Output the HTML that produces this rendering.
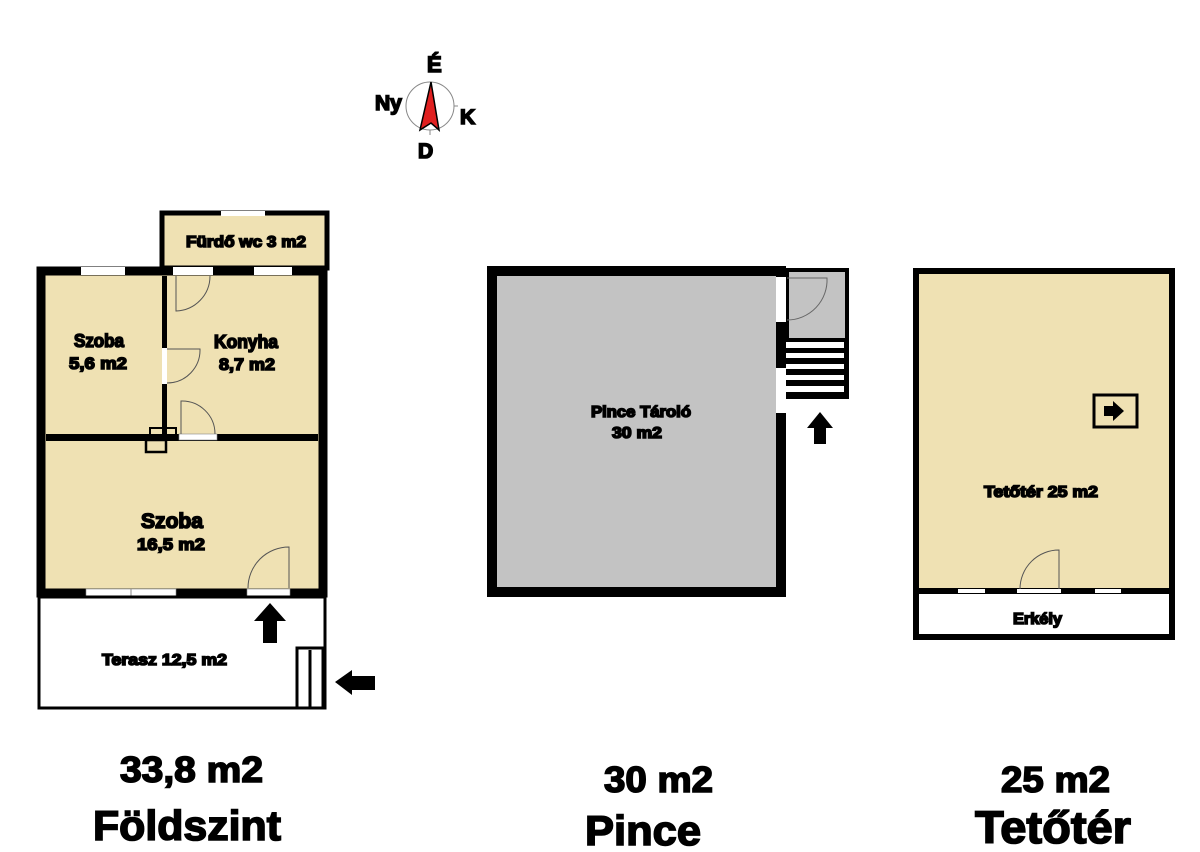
<!DOCTYPE html>
<html><head><meta charset="utf-8"><style>
html,body{margin:0;padding:0;background:#fff;width:1200px;height:852px;overflow:hidden}
svg{display:block}
text{font-family:"Liberation Sans",sans-serif;font-weight:bold;fill:#000}
.h{stroke:#000;stroke-width:1.6px;paint-order:stroke}
</style></head><body>
<svg width="1200" height="852" viewBox="0 0 1200 852">
<!-- compass -->
<circle cx="430" cy="106" r="24" fill="#fff" stroke="#888" stroke-width="1"/>
<line x1="454" y1="106" x2="458" y2="106" stroke="#888"/>
<line x1="430" y1="130" x2="430" y2="135" stroke="#888"/>
<polygon points="431,82 439,130 431,123 420,130" fill="#e02020" stroke="#000" stroke-width="1.5"/>
<text x="427" y="72" font-size="22" class="h" stroke-width="0.8">É</text>
<text x="375" y="110" font-size="21" class="h" stroke-width="0.8">Ny</text>
<text x="460" y="124" font-size="21" class="h" stroke-width="0.8">K</text>
<text x="418" y="158" font-size="21" class="h" stroke-width="0.8">D</text>

<!-- GROUND FLOOR -->
<rect x="162" y="213" width="165" height="55" fill="#efe1b3" stroke="#000" stroke-width="5"/>
<rect x="221" y="211" width="44" height="5" fill="#fff"/>
<rect x="41" y="271" width="282" height="322" fill="#efe1b3" stroke="#000" stroke-width="9"/>
<rect x="162" y="276" width="5" height="158" fill="#000"/>
<rect x="46" y="434" width="272" height="7" fill="#000"/>
<rect x="81" y="267" width="44" height="8" fill="#fff"/>
<rect x="173" y="267" width="40" height="8" fill="#fff"/>
<rect x="254" y="267" width="38" height="8" fill="#fff"/>
<rect x="86" y="589" width="90" height="7" fill="#fff" stroke="#888" stroke-width="0.6"/>
<line x1="131" y1="589" x2="131" y2="596" stroke="#888"/>
<rect x="247" y="589" width="43" height="7" fill="#fff" stroke="#888" stroke-width="0.6"/>
<rect x="162" y="348" width="5" height="36" fill="#fff"/>
<rect x="179" y="434" width="38" height="6" fill="#fff" stroke="#888" stroke-width="0.6"/>
<path d="M176,276 L176,311 A35,35 0 0 0 210,276" fill="none" stroke="#555" stroke-width="1"/>
<path d="M167,349 L200,349 A33,33 0 0 1 167,383" fill="none" stroke="#555" stroke-width="1"/>
<path d="M181,434 L181,401 A33,33 0 0 1 215,434" fill="none" stroke="#555" stroke-width="1"/>
<path d="M289,588 L289,547 A41,41 0 0 0 248,588" fill="none" stroke="#555" stroke-width="1"/>
<rect x="150" y="428" width="26" height="8" fill="none" stroke="#000" stroke-width="2"/>
<rect x="146" y="440" width="20" height="12" fill="none" stroke="#000" stroke-width="2.5"/>
<rect x="39" y="597" width="286" height="111" fill="#fff" stroke="#000" stroke-width="3"/>
<rect x="297" y="648" width="26" height="60" fill="#fff" stroke="#000" stroke-width="3"/>
<line x1="310" y1="650" x2="310" y2="708" stroke="#000" stroke-width="3"/>
<polygon points="270,603 286,621 277,621 277,643 263,643 263,621 254,621" fill="#000"/>
<polygon points="335,682 352,670 352,676 375,676 375,690 352,690 352,695" fill="#000"/>
<text x="74" y="347" font-size="18" class="h" stroke-width="0.4" textLength="50" lengthAdjust="spacingAndGlyphs">Szoba</text>
<text x="69" y="369" font-size="17" class="h" stroke-width="0.3" textLength="58" lengthAdjust="spacingAndGlyphs">5,6 m2</text>
<text x="214" y="348" font-size="18" class="h" stroke-width="0.4" textLength="64" lengthAdjust="spacingAndGlyphs">Konyha</text>
<text x="219" y="370" font-size="17" class="h" stroke-width="0.3" textLength="56" lengthAdjust="spacingAndGlyphs">8,7 m2</text>
<text x="141" y="528" font-size="21" class="h" stroke-width="0.5" textLength="62" lengthAdjust="spacingAndGlyphs">Szoba</text>
<text x="137" y="550" font-size="17" class="h" stroke-width="0.3" textLength="68" lengthAdjust="spacingAndGlyphs">16,5 m2</text>
<text x="186" y="247" font-size="16" class="h" stroke-width="0.3" textLength="120" lengthAdjust="spacingAndGlyphs">Fürdő wc 3 m2</text>
<text x="102" y="665" font-size="16" class="h" stroke-width="0.3" textLength="125" lengthAdjust="spacingAndGlyphs">Terasz 12,5 m2</text>

<!-- PINCE -->
<rect x="492" y="271" width="289" height="321" fill="#c3c3c3" stroke="#000" stroke-width="10"/>
<rect x="787" y="270" width="60" height="127" fill="#c3c3c3" stroke="#000" stroke-width="4"/>
<rect x="776" y="277" width="10" height="45" fill="#fff"/>
<rect x="776" y="368" width="10" height="45" fill="#fff"/>
<rect x="786" y="338" width="60" height="58" fill="#000"/>
<rect x="786" y="342" width="58" height="6" fill="#fff"/>
<rect x="786" y="353" width="58" height="5" fill="#fff"/>
<rect x="786" y="364" width="58" height="5" fill="#fff"/>
<rect x="786" y="375" width="58" height="5" fill="#fff"/>
<rect x="786" y="386" width="58" height="6" fill="#fff"/>
<path d="M787,278 L827,278 A40,40 0 0 1 787,320" fill="none" stroke="#666" stroke-width="1"/>
<polygon points="820,412 833,428 826,428 826,444 814,444 814,428 807,428" fill="#000"/>
<text x="591" y="417" font-size="16" class="h" stroke-width="0.3" textLength="100" lengthAdjust="spacingAndGlyphs">Pince Tároló</text>
<text x="612" y="438" font-size="16" class="h" stroke-width="0.3" textLength="50" lengthAdjust="spacingAndGlyphs">30 m2</text>

<!-- TETOTER -->
<rect x="916" y="271" width="256" height="366" fill="#fff" stroke="#000" stroke-width="6"/>
<rect x="919" y="274" width="250" height="317" fill="#efe1b3"/>
<rect x="916" y="588" width="256" height="6" fill="#000"/>
<rect x="958" y="589" width="27" height="4" fill="#fff"/>
<rect x="1017" y="589" width="44" height="4" fill="#fff"/>
<rect x="1095" y="589" width="26" height="4" fill="#fff"/>
<path d="M1059,589 L1059,550 A39,39 0 0 0 1020,589" fill="none" stroke="#555" stroke-width="1"/>
<rect x="1094" y="395" width="43" height="32" fill="none" stroke="#000" stroke-width="3"/>
<polygon points="1104,406 1113,406 1113,401 1124,411 1113,421 1113,416 1104,416" fill="#000"/>
<text x="984" y="497" font-size="16" class="h" stroke-width="0.3" textLength="114" lengthAdjust="spacingAndGlyphs">Tetőtér 25 m2</text>
<text x="1013" y="624" font-size="16" class="h" stroke-width="0.3" textLength="49" lengthAdjust="spacingAndGlyphs">Erkély</text>

<!-- bottom labels -->
<text x="120" y="782" font-size="36" class="h" textLength="143" lengthAdjust="spacingAndGlyphs">33,8 m2</text>
<text x="93" y="840" font-size="42" class="h" stroke-width="2" textLength="188" lengthAdjust="spacingAndGlyphs">Földszint</text>
<text x="604" y="792" font-size="36" class="h" textLength="109" lengthAdjust="spacingAndGlyphs">30 m2</text>
<text x="585" y="845" font-size="42" class="h" stroke-width="2" textLength="116" lengthAdjust="spacingAndGlyphs">Pince</text>
<text x="1001" y="792" font-size="36" class="h" textLength="109" lengthAdjust="spacingAndGlyphs">25 m2</text>
<text x="975" y="843" font-size="45" class="h" stroke-width="2" textLength="156" lengthAdjust="spacingAndGlyphs">Tetőtér</text>
</svg>
</body></html>
